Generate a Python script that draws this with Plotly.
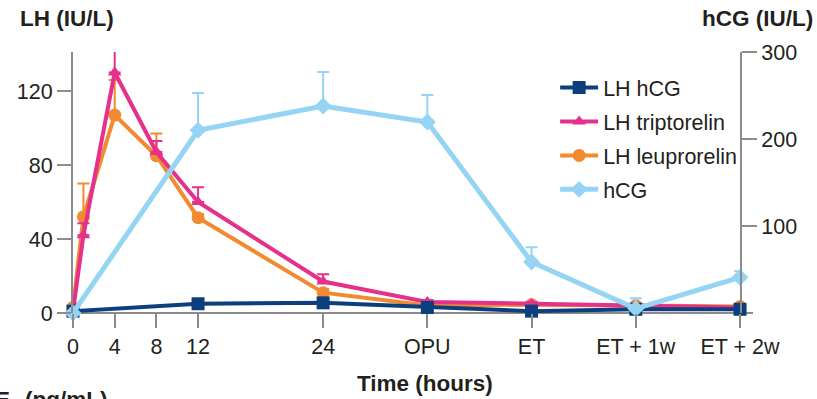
import plotly.graph_objects as go

# ---- data ----
time_labels = ["0", "1", "4", "8", "12", "24", "OPU", "ET", "ET + 1w", "ET + 2w"]
time_values = [0, 1, 4, 8, 12, 24, 34, 44, 54, 64]
tick_labels = ["0", "4", "8", "12", "24", "OPU", "ET", "ET + 1w", "ET + 2w"]

lh_hcg = [1, None, None, None, 5, 5.5, 3, 1, 2, 2]
lh_trip = [1, 42, 130, 87, 60, 17, 6, 5, 3.5, 3]
lh_trip_err = [0, 6.5, 16.5, 6, 8, 4, 1, 1, 1.5, 1]
lh_leup = [3, 52, 107, 85, 51.5, 11, 4, 4.5, 4, 3.5]
lh_leup_err = [0, 18, 19, 12, 2, 2, 3, 1, 1, 1]
hcg = [0, None, None, None, 210, 238, 219.5, 58.6, 5, 41]
hcg_err = [0, None, None, None, 43, 39, 31, 17, 12, 7]

lab_to_x = dict(zip(time_labels, time_values))
tickvals = [lab_to_x[t] for t in tick_labels]

NAVY = "#0B3F7E"
PINK = "#E5318B"
ORANGE = "#F28A30"
LBLUE = "#96D4F4"
GREY = "#8C8C8C"
TXT = "#231F20"
FONT = "Liberation Sans, Arial, sans-serif"
FS = 21.5
FSB = 22.5


def pts(vals, errs=None):
    xs, ys, es = [], [], []
    for i, v in enumerate(vals):
        if v is None:
            continue
        xs.append(time_values[i])
        ys.append(v)
        if errs is not None:
            es.append(errs[i])
    return xs, ys, es


fig = go.Figure()

x, y, e = pts(hcg, hcg_err)
fig.add_trace(go.Scatter(
    x=x, y=y, name="hCG", yaxis="y2", mode="lines+markers",
    line=dict(color=LBLUE, width=5),
    marker=dict(symbol="diamond", size=13, color=LBLUE),
    error_y=dict(type="data", array=e, arrayminus=[0] * len(e), symmetric=False,
                 color=LBLUE, thickness=2, width=6),
    cliponaxis=False, legendrank=4, legendgroup="d"))

x, y, e = pts(lh_leup, lh_leup_err)
fig.add_trace(go.Scatter(
    x=x, y=y, name="LH leuprorelin", mode="lines+markers",
    line=dict(color=ORANGE, width=4),
    marker=dict(symbol="circle", size=13, color=ORANGE),
    error_y=dict(type="data", array=e, arrayminus=[0] * len(e), symmetric=False,
                 color=ORANGE, thickness=2, width=6),
    cliponaxis=False, legendrank=3, legendgroup="c"))

x, y, e = pts(lh_trip, lh_trip_err)
fig.add_trace(go.Scatter(
    x=x, y=y, name="LH triptorelin", mode="lines+markers",
    line=dict(color=PINK, width=4),
    marker=dict(symbol="triangle-up", size=12, color=PINK),
    error_y=dict(type="data", array=e, arrayminus=[0] * len(e), symmetric=False,
                 color=PINK, thickness=2, width=6),
    cliponaxis=False, legendrank=2, legendgroup="b"))

x, y, e = pts(lh_hcg)
fig.add_trace(go.Scatter(
    x=x, y=y, name="LH hCG", mode="lines+markers",
    line=dict(color=NAVY, width=4),
    marker=dict(symbol="square", size=13, color=NAVY),
    cliponaxis=False, legendrank=1, legendgroup="a"))

W, H = 817, 399
L, R, T, B = 72.5, 77, 52, 86
pw = W - L - R
ph = H - T - B

fig.update_layout(
    width=W, height=H,
    margin=dict(l=L, r=R, t=T, b=B, autoexpand=False),
    paper_bgcolor="white", plot_bgcolor="white",
    font=dict(family=FONT, size=FS, color=TXT),
    showlegend=True,
    legend=dict(x=(555 - L) / pw, y=(313 - 67) / ph, xanchor="left", yanchor="top",
                bgcolor="rgba(0,0,0,0)", font=dict(size=FS, family=FONT, color=TXT),
                itemwidth=38, tracegroupgap=3),
    xaxis=dict(range=[0, 64], tickvals=tickvals, ticktext=tick_labels,
               showgrid=False, zeroline=False, showline=False,
               ticks="outside", ticklen=14, tickwidth=2, tickcolor=GREY,
               tickfont=dict(size=FS, family=FONT, color=TXT)),
    yaxis=dict(range=[0, ph / 1.85], tickvals=[0, 40, 80, 120],
               showgrid=False, zeroline=False, showline=True, linecolor=GREY, linewidth=2,
               ticks="outside", ticklen=14, tickwidth=2, tickcolor=GREY,
               tickfont=dict(size=FS, family=FONT, color=TXT)),
    yaxis2=dict(range=[0, 300], tickvals=[100, 200, 300], overlaying="y", side="right",
                showgrid=False, zeroline=False, showline=True, linecolor=GREY, linewidth=2,
                ticks="outside", ticklen=15, tickwidth=2, tickcolor=GREY,
                tickfont=dict(size=FS, family=FONT, color=TXT)),
)

# x axis baseline (extends beyond the plotting area)
fig.add_shape(type="line", xref="paper", yref="paper",
              x0=(58 - L) / pw, x1=(753 - L) / pw, y0=0, y1=0,
              line=dict(color=GREY, width=2), layer="below")

bold = dict(family=FONT, size=FSB, color=TXT)
fig.add_annotation(text="<b>LH (IU/L)</b>", xref="paper", yref="paper",
                   x=(17 - L) / pw, y=(313 - 4) / ph, xanchor="left", yanchor="top",
                   showarrow=False, font=bold)
fig.add_annotation(text="<b>hCG (IU/L)</b>", xref="paper", yref="paper",
                   x=(815 - L) / pw, y=(313 - 4) / ph, xanchor="right", yanchor="top",
                   showarrow=False, font=bold)
fig.add_annotation(text="<b>Time (hours)</b>", xref="paper", yref="paper",
                   x=(425 - L) / pw, y=(313 - 369) / ph, xanchor="center", yanchor="top",
                   showarrow=False, font=bold)
fig.add_annotation(text="<b>E<sub>2</sub> (pg/mL)</b>", xref="paper", yref="paper",
                   x=(-8 - L) / pw, y=(313 - 385) / ph, xanchor="left", yanchor="top",
                   showarrow=False, font=bold)

fig.write_html("out.html")
